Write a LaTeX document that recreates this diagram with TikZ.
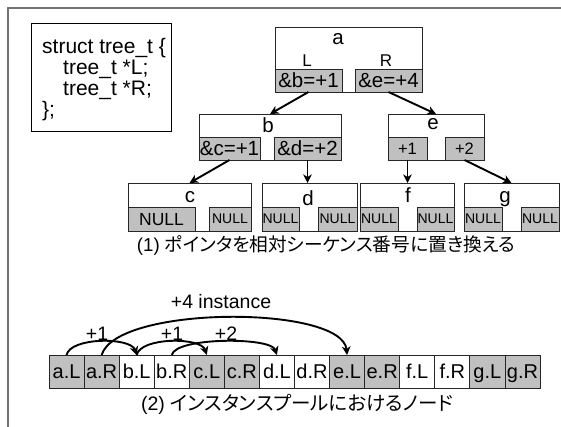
\documentclass[tikz,border=0pt]{standalone}
\usepackage{fontspec}
\setmainfont{Liberation Sans}
\newfontfamily\jp[RawFeature=+palt]{Noto Sans CJK JP}
\usetikzlibrary{arrows.meta}
\definecolor{cellgray}{RGB}{192,192,192}
\definecolor{framegray}{RGB}{115,115,115}
\newcommand{\fs}[1]{\fontsize{#1}{#1}\selectfont}
\begin{document}
\begin{tikzpicture}[x=1pt,y=-1pt,
  tbox/.style={draw=black!85,line width=0.8pt,fill=white,inner sep=0pt,outer sep=0pt},
  gcell/.style={tbox,fill=cellgray,text height=14.3pt,text depth=0pt,font=\fs{20.5}},
  nullc/.style={tbox,fill=cellgray,text height=10pt,text depth=0pt,font=\fs{14}},
  lbl/.style={inner sep=0pt,outer sep=0pt,anchor=base,font=\fs{20.5}},
  code/.style={inner sep=0pt,anchor=base west,font=\fs{21}},
  arr/.style={line width=1.9pt,-{Stealth[length=8.5pt,width=8.5pt,inset=2.5pt]}},
  barc/.style={tbox,minimum width=35.07,minimum height=33,text height=14.3pt,text depth=0pt,font=\fs{20}},
  num/.style={inner sep=0pt,font=\fs{19.5}},
  captext/.style={inner sep=0pt,font=\fs{19.5}}
]
\useasboundingbox (0,0) rectangle (561,427);
% frame
\draw[framegray,line width=1.6pt] (561,8) -- (8,8) -- (8,427);

% struct box
\node[draw=black,line width=1pt,inner sep=0pt,minimum width=140,minimum height=108] (st) at (101,78) {};
\node[code] (s1) at (42,54) {struct tree\_t \{};
\node[code] (s2) at (63,75) {tree\_t *L;};
\node[code] (s3) at (63,96) {tree\_t *R;};
\node[code] (s4) at (42,117) {\};};

% node a
\node[tbox,minimum width=147,minimum height=65] (a) at (348.5,59.5) {};
\node[gcell,minimum width=67,minimum height=23] (aL) at (308.5,80.5) {\&b=+1};
\node[gcell,minimum width=67,minimum height=23] (aR) at (388.5,80.5) {\&e=+4};
\node[lbl] (la) at (338,45) {a};
\node[lbl,font=\fs{17}] (laL) at (307,67) {L};
\node[lbl,font=\fs{17}] (laR) at (386,67) {R};

% node b
\node[tbox,minimum width=142,minimum height=46] (b) at (270,137) {};
\node[gcell,minimum width=61,minimum height=23] (bL) at (229.5,148.5) {\&c=+1};
\node[gcell,minimum width=67,minimum height=23] (bR) at (307.5,148.5) {\&d=+2};
\node[lbl] (lb) at (268,133) {b};

% node e
\node[tbox,minimum width=96,minimum height=46] (e) at (436,137) {};
\node[gcell,font=\fs{16.5},text height=12pt,minimum width=39,minimum height=23] (eL) at (407.5,148.5) {+1};
\node[gcell,font=\fs{16.5},text height=12pt,minimum width=39,minimum height=23] (eR) at (464.5,148.5) {+2};
\node[lbl] (le) at (433,130) {e};

% node c
\node[tbox,minimum width=123,minimum height=48] (c) at (189.5,207) {};
\node[nullc,font=\fs{17.5},text height=12.5pt,minimum width=67,minimum height=24] (cL) at (161.5,219) {NULL};
\node[nullc,minimum width=42,minimum height=24] (cR) at (230,219) {NULL};
\node[lbl] (lc) at (190,203) {c};

% node d
\node[tbox,minimum width=95,minimum height=48] (d) at (309.5,207) {};
\node[nullc,minimum width=37,minimum height=24] (dL) at (280.5,219) {NULL};
\node[nullc,minimum width=39,minimum height=24] (dR) at (337.5,219) {NULL};
\node[lbl] (ld) at (308,206) {d};

% node f
\node[tbox,minimum width=94,minimum height=48] (f) at (407,207) {};
\node[nullc,minimum width=38,minimum height=24] (fL) at (379,219) {NULL};
\node[nullc,minimum width=37,minimum height=24] (fR) at (435.5,219) {NULL};
\node[lbl] (lf) at (408,203) {f};

% node g
\node[tbox,minimum width=95,minimum height=48] (g) at (511.5,207) {};
\node[nullc,minimum width=38,minimum height=24] (gL) at (483,219) {NULL};
\node[nullc,minimum width=38,minimum height=24] (gR) at (540,219) {NULL};
\node[lbl] (lg) at (505,203) {g};

% tree arrows
\draw[arr] (aL.south) -- (b.north);
\draw[arr] (aR.south) -- (e.north);
\draw[arr] (bL.south) -- (c.north);
\draw[arr] (bR.south) -- (bR.south |- d.north);
\draw[arr] (eL.south) -- (eL.south |- f.north);
\draw[arr] (eR.south) -- (g.north);

\node[captext,font=\fs{18.7}] (cap1) at (326,245) {(1) {\jp ポインタを相対シーケンス番号に置き換える}};

% instance pool bar
\foreach \t [count=\i] in {a.L,a.R,b.L,b.R,c.L,c.R,d.L,d.R,e.L,e.R,f.L,f.R,g.L,g.R}{
  \pgfmathparse{mod(floor((\i-1)/2),2)==0 ? "cellgray" : "white"}
  \edef\cc{\pgfmathresult}
  \node[barc,fill=\cc] (p\i) at ({49+(\i-0.5)*35.07},371.5) {\t};
}

\draw[arr] (p1.north) .. controls +(4,-18) and +(-6,-18) .. (p3.north);
\draw[arr] (p3.north) .. controls +(4,-18) and +(-6,-18) .. (p5.north);
\draw[arr] (p4.north) .. controls +(4,-18) and +(-6,-18) .. (p7.north);
\draw[arr] (p2.north) .. controls +(15,-50) and +(-5,-50) .. (p9.north);

\node[num] (n1) at (97,334) {+1};
\node[num] (n2) at (172,334) {+1};
\node[num] (n3) at (226,334) {+2};
\node[num] (n4) at (221,302) {+4 instance};

\node[captext] (cap2) at (297,404) {(2) {\jp インスタンスプールにおけるノード}};
\end{tikzpicture}
\end{document}
